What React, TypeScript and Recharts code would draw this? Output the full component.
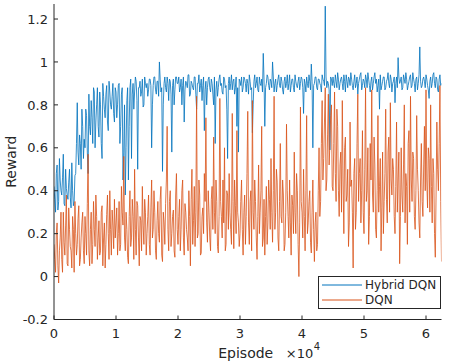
import React from "react";
import { LineChart, Line, XAxis, YAxis } from "recharts";

const EPISODE_STEP = 250;

// rewards read at episodes 0, 250, 500, ... 62500
const HYBRID_DQN = [
  0.42, 0.30, 0.52, 0.35, 0.45, 0.38, 0.57, 0.33, 0.41, 0.36, 0.50, 0.32, 0.40, 0.35, 0.48, 0.81, 0.52, 0.62, 0.78, 0.55,
  0.60, 0.75, 0.48, 0.70, 0.82, 0.62, 0.86, 0.72, 0.88, 0.65, 0.80, 0.55, 0.84, 0.74, 0.89, 0.68, 0.86, 0.78, 0.90, 0.72,
  0.86, 0.80, 0.90, 0.70, 0.88, 0.58, 0.38, 0.82, 0.45, 0.88, 0.55, 0.90, 0.86, 0.91, 0.50, 0.88, 0.84, 0.92, 0.80, 0.90,
  0.90, 0.87, 0.92, 0.60, 0.89, 0.93, 0.85, 0.91, 1.00, 0.86, 0.49, 0.90, 0.88, 0.93, 0.82, 0.91, 0.58, 0.92, 0.87, 0.93,
  0.90, 0.86, 0.92, 0.89, 0.72, 0.91, 0.88, 0.94, 0.85, 0.90, 0.87, 0.93, 0.78, 0.90, 0.86, 0.92, 0.89, 0.68, 0.91, 0.88,
  0.93, 0.86, 0.90, 0.80, 0.62, 0.91, 0.88, 0.94, 0.90, 0.85, 0.92, 0.89, 0.55, 0.93, 0.90, 0.87, 0.92, 0.88, 0.70, 0.58,
  0.91, 0.93, 0.88, 0.92, 0.86, 0.90, 0.94, 0.87, 0.67, 0.91, 0.88, 0.93, 0.86, 0.90, 0.92, 1.04, 0.70, 0.90, 0.93, 0.87,
  0.91, 1.00, 0.86, 0.92, 0.89, 0.94, 0.88, 0.91, 0.85, 0.93, 0.90, 0.87, 0.94, 0.89, 0.92, 0.86, 0.91, 0.88, 0.93, 0.90,
  0.92, 0.76, 0.90, 0.93, 0.88, 0.91, 0.99, 0.60, 0.90, 0.93, 0.87, 0.92, 0.89, 0.94, 0.91, 1.26, 0.88, 0.90, 0.59, 0.92,
  0.93, 0.88, 0.91, 0.95, 0.87, 0.92, 0.90, 0.94, 0.86, 0.91, 0.93, 0.89, 0.92, 0.87, 0.94, 0.90, 0.85, 0.92, 0.95, 0.89,
  0.91, 0.94, 0.88, 0.92, 0.86, 0.93, 0.90, 0.95, 0.92, 0.89, 0.78, 0.87, 0.91, 0.93, 0.88, 0.92, 0.90, 0.94, 0.86, 0.91,
  0.81, 0.93, 1.02, 0.90, 0.93, 0.88, 0.92, 0.95, 0.87, 0.91, 0.94, 0.89, 0.92, 0.86, 0.93, 0.90, 1.07, 0.88, 0.92, 0.91,
  0.94, 0.89, 0.83, 0.93, 0.90, 0.95, 0.88, 0.92, 0.86, 0.94, 0.90,
];

// rewards read at episodes 125, 375, 625, ... 62375
const HYBRID_DQN_MID = [
  0.36, 0.48, 0.31, 0.55, 0.40, 0.46, 0.34, 0.50, 0.38, 0.44, 0.37, 0.53, 0.33, 0.47, 0.62, 0.58, 0.66, 0.50, 0.70, 0.64,
  0.78, 0.58, 0.85, 0.66, 0.74, 0.88, 0.60, 0.80, 0.70, 0.86, 0.62, 0.90, 0.78, 0.85, 0.72, 0.91, 0.80, 0.84, 0.76, 0.88,
  0.74, 0.89, 0.62, 0.85, 0.45, 0.80, 0.60, 0.88, 0.70, 0.92, 0.85, 0.78, 0.93, 0.82, 0.88, 0.91, 0.86, 0.79, 0.93, 0.88,
  0.84, 0.92, 0.89, 0.80, 0.93, 0.87, 0.91, 0.84, 0.92, 0.88, 0.80, 0.93, 0.86, 0.90, 0.92, 0.85, 0.89, 0.80, 0.93, 0.90,
  0.93, 0.88, 0.80, 0.93, 0.87, 0.90, 0.94, 0.84, 0.91, 0.88, 0.93, 0.85, 0.90, 0.94, 0.89, 0.82, 0.93, 0.87, 0.80, 0.92,
  0.88, 0.92, 0.85, 0.93, 0.87, 0.84, 0.92, 0.89, 0.86, 0.93, 0.88, 0.78, 0.90, 0.87, 0.94, 0.91, 0.85, 0.93, 0.88, 0.92,
  0.89, 0.86, 0.93, 0.90, 0.92, 0.85, 0.91, 0.88, 0.80, 0.94, 0.90, 0.87, 0.93, 0.89, 0.86, 0.92, 0.88, 0.94, 0.89, 0.92,
  0.88, 0.93, 0.90, 0.86, 0.92, 0.89, 0.93, 0.87, 0.91, 0.88, 0.94, 0.90, 0.86, 0.92, 0.88, 0.94, 0.89, 0.91, 0.87, 0.93,
  0.88, 0.92, 0.86, 0.90, 0.94, 0.87, 0.91, 0.89, 0.93, 0.88, 0.92, 0.90, 0.86, 0.92, 0.89, 0.93, 0.91, 0.87, 0.93, 0.89,
  0.90, 0.94, 0.88, 0.92, 0.90, 0.93, 0.87, 0.91, 0.94, 0.88, 0.92, 0.95, 0.89, 0.91, 0.88, 0.93, 0.90, 0.94, 0.87, 0.92,
  0.88, 0.92, 0.95, 0.89, 0.91, 0.87, 0.93, 0.90, 0.86, 0.92, 0.94, 0.89, 0.93, 0.87, 0.91, 0.95, 0.88, 0.92, 0.90, 0.93,
  0.90, 0.88, 0.93, 0.91, 0.87, 0.94, 0.90, 0.92, 0.89, 0.93, 0.88, 0.95, 0.90, 0.92, 0.87, 0.94, 0.91, 0.89, 0.93, 0.88,
  0.92, 0.87, 0.91, 0.88, 0.94, 0.90, 0.93, 0.87, 0.92, 0.89,
];

const DQN = [
  0.15, 0.02, 0.25, -0.03, 0.18, 0.08, 0.30, 0.10, 0.38, 0.05, 0.22, 0.12, 0.28, 0.02, 0.20, 0.15, 0.33, 0.08, 0.25, 0.12,
  0.28, 0.10, 0.57, 0.05, 0.30, 0.15, 0.22, 0.38, 0.08, 0.26, 0.12, 0.33, 0.18, 0.04, 0.29, 0.20, 0.40, 0.10, 0.24, 0.36,
  0.25, 0.10, 0.35, 0.15, 0.30, 0.56, 0.12, 0.22, 0.06, 0.40, 0.18, 0.28, 0.50, 0.10, 0.33, 0.05, 0.26, 0.42, 0.15, 0.30,
  0.20, 0.38, 0.10, 0.45, 0.22, 0.30, 0.08, 0.35, 0.16, 0.42, 0.07, 0.25, 0.34, 0.70, 0.12, 0.40, 0.20, 0.31, 0.09, 0.48,
  0.15, 0.36, 0.22, 0.45, 0.10, 0.30, 0.18, 0.40, 0.05, 0.50, 0.26, 0.14, 0.84, 0.20, 0.38, 0.11, 0.32, 0.48, 0.74, 0.16,
  0.30, 0.12, 0.42, 0.65, 0.20, 0.35, 0.11, 0.83, 0.28, 0.45, 0.60, 0.15, 0.38, 0.48, 0.22, 0.76, 0.13, 0.33, 0.68, 0.25,
  0.20, 0.45, 0.10, 0.38, 0.28, 0.77, 0.15, 0.40, 0.82, 0.22, 0.35, 0.08, 0.52, 0.30, 0.70, 0.18, 0.10, 0.42, 0.25, 0.36,
  0.55, 0.16, 0.84, 0.30, 0.44, 0.12, 0.62, 0.25, 0.38, 0.15, 0.71, 0.28, 0.45, 0.10, 0.33, 0.58, 0.20, 0.40, 0.00, 0.79,
  0.30, 0.50, 0.12, 0.75, 0.25, 0.40, 0.11, 0.45, 0.07, 0.30, 0.15, 0.60, 0.35, 0.82, 0.55, 0.88, 0.45, 0.85, 0.62, 0.80,
  0.40, 0.86, 0.35, 0.70, 0.28, 0.58, 0.82, 0.20, 0.65, 0.38, 0.14, 0.72, 0.45, 0.04, 0.55, 0.30, 0.85, 0.48, 0.25, 0.68,
  0.20, 0.88, 0.40, 0.15, 0.62, 0.87, 0.30, 0.52, 0.18, 0.75, 0.42, 0.12, 0.58, 0.35, 0.78, 0.25, 0.65, 0.81, 0.38, 0.50,
  0.20, 0.72, 0.45, 0.06, 0.60, 0.30, 0.80, 0.48, 0.15, 0.68, 0.84, 0.35, 0.55, 0.22, 0.75, 0.40, 0.18, 0.62, 0.28, 0.70,
  0.87, 0.32, 0.55, 0.80, 0.25, 0.48, 0.09, 0.72, 0.40, 0.89, 0.07,
];

const DQN_MID = [
  0.08, 0.20, 0.05, 0.12, 0.30, 0.02, 0.16, 0.24, 0.06, 0.32, 0.14, 0.04, 0.22, 0.35, 0.10, 0.27, 0.05, 0.18, 0.30, 0.06,
  0.20, 0.34, 0.12, 0.22, 0.06, 0.35, 0.14, 0.28, 0.18, 0.10, 0.30, 0.05, 0.25, 0.15, 0.38, 0.08, 0.22, 0.31, 0.13, 0.18,
  0.32, 0.20, 0.12, 0.42, 0.24, 0.18, 0.30, 0.09, 0.28, 0.14, 0.36, 0.08, 0.22, 0.35, 0.18, 0.28, 0.12, 0.24, 0.36, 0.10,
  0.28, 0.15, 0.32, 0.18, 0.40, 0.12, 0.26, 0.20, 0.36, 0.10, 0.30, 0.15, 0.45, 0.22, 0.35, 0.14, 0.28, 0.12, 0.38, 0.22,
  0.28, 0.12, 0.40, 0.18, 0.34, 0.22, 0.12, 0.28, 0.36, 0.15, 0.42, 0.30, 0.18, 0.45, 0.10, 0.28, 0.20, 0.35, 0.25, 0.40,
  0.18, 0.36, 0.22, 0.30, 0.45, 0.14, 0.28, 0.35, 0.18, 0.25, 0.12, 0.40, 0.22, 0.30, 0.15, 0.35, 0.45, 0.20, 0.30, 0.14,
  0.35, 0.22, 0.30, 0.15, 0.48, 0.25, 0.35, 0.12, 0.30, 0.45, 0.18, 0.28, 0.20, 0.40, 0.14, 0.36, 0.28, 0.15, 0.45, 0.22,
  0.30, 0.40, 0.22, 0.50, 0.18, 0.35, 0.28, 0.45, 0.12, 0.30, 0.40, 0.18, 0.25, 0.38, 0.20, 0.30, 0.48, 0.15, 0.25, 0.35,
  0.18, 0.28, 0.40, 0.20, 0.35, 0.16, 0.30, 0.22, 0.25, 0.12, 0.40, 0.28, 0.62, 0.45, 0.72, 0.40, 0.66, 0.52, 0.75, 0.42,
  0.62, 0.48, 0.78, 0.40, 0.52, 0.30, 0.45, 0.60, 0.35, 0.50, 0.25, 0.42, 0.30, 0.48, 0.22, 0.62, 0.35, 0.55, 0.40, 0.30,
  0.50, 0.35, 0.60, 0.28, 0.45, 0.38, 0.65, 0.22, 0.40, 0.30, 0.55, 0.32, 0.20, 0.48, 0.36, 0.58, 0.30, 0.45, 0.55, 0.28,
  0.42, 0.30, 0.58, 0.28, 0.38, 0.52, 0.25, 0.42, 0.62, 0.30, 0.45, 0.58, 0.28, 0.40, 0.50, 0.25, 0.45, 0.35, 0.52, 0.40,
  0.45, 0.60, 0.30, 0.42, 0.55, 0.20, 0.38, 0.50, 0.62, 0.35,
];

const X_TICKS = [0, 10000, 20000, 30000, 40000, 50000, 60000];
const Y_TICKS = [-0.2, 0, 0.2, 0.4, 0.6, 0.8, 1, 1.2];
const SERIES_NAMES = ["Hybrid DQN", "DQN"];

const BLUE = "#0072BD";
const ORANGE = "#D95319";
const AXIS = "#262626";
const FONT = "DejaVu Sans, sans-serif";

const data: { episode: number; hybrid: number; dqn: number }[] = [];
HYBRID_DQN.forEach((h, i) => {
  data.push({ episode: i * EPISODE_STEP, hybrid: h, dqn: DQN[i] });
  if (i < HYBRID_DQN_MID.length) {
    data.push({
      episode: i * EPISODE_STEP + EPISODE_STEP / 2,
      hybrid: HYBRID_DQN_MID[i],
      dqn: DQN_MID[i],
    });
  }
});

const XTick = (props: any) => {
  const { x, y, payload } = props;
  return (
    <g>
      <line x1={x} y1={y} x2={x} y2={y - 4} stroke={AXIS} strokeWidth={1} />
      <text x={x} y={y + 18.5} textAnchor="middle" fontSize={13} fontFamily={FONT} fill={AXIS}>
        {String(payload.value / 10000)}
      </text>
    </g>
  );
};

const YTick = (props: any) => {
  const { x, y, payload } = props;
  const v = Math.round(payload.value * 10) / 10;
  return (
    <g>
      <line x1={x} y1={y} x2={x + 4} y2={y} stroke={AXIS} strokeWidth={1} />
      <text x={x - 6} y={y + 4.7} textAnchor="end" fontSize={13} fontFamily={FONT} fill={AXIS}>
        {String(v)}
      </text>
    </g>
  );
};

const XLabel = (props: any) => {
  const { viewBox } = props;
  const cx = viewBox.x + viewBox.width / 2;
  const by = viewBox.y;
  return (
    <g>
      <text x={cx - 2} y={by + 38} textAnchor="middle" fontSize={14} fontFamily={FONT} fill={AXIS}>
        Episode
      </text>
      <text x={cx + 38} y={by + 38} textAnchor="start" fontSize={13} fontFamily={FONT} fill={AXIS}>
        ×10
      </text>
      <text x={cx + 66} y={by + 30} textAnchor="start" fontSize={10} fontFamily={FONT} fill={AXIS}>
        4
      </text>
    </g>
  );
};

const YLabel = (props: any) => {
  const { viewBox } = props;
  const cy = viewBox.y + viewBox.height / 2;
  const x = 16;
  return (
    <text
      x={x}
      y={cy}
      transform={`rotate(-90 ${x} ${cy})`}
      textAnchor="middle"
      fontSize={14}
      fontFamily={FONT}
      fill={AXIS}
    >
      Reward
    </text>
  );
};

const LegendBox = () => (
  <svg width={124} height={34} style={{ display: "block" }}>
    <rect x={0.5} y={0.5} width={122} height={32} fill="#fff" stroke={AXIS} strokeWidth={1} />
    <line x1={4} y1={9} x2={44} y2={9} stroke={BLUE} strokeWidth={1} />
    <text x={47} y={13.3} fontSize={12} fontFamily={FONT} fill={AXIS}>
      {SERIES_NAMES[0]}
    </text>
    <line x1={4} y1={24} x2={44} y2={24} stroke={ORANGE} strokeWidth={1} />
    <text x={47} y={28.3} fontSize={12} fontFamily={FONT} fill={AXIS}>
      {SERIES_NAMES[1]}
    </text>
  </svg>
);

export default function App() {
  return (
    <div style={{ position: "absolute", left: 0, top: 0, width: 476, height: 363, background: "#fff" }}>
      <LineChart
        width={476}
        height={363}
        data={data}
        margin={{ top: 4, right: 34.5, bottom: 0, left: 0 }}
      >
        <XAxis
          dataKey="episode"
          type="number"
          domain={[0, 62500]}
          ticks={X_TICKS}
          allowDataOverflow
          height={43.5}
          tickSize={0}
          tickMargin={0}
          tickLine={false}
          tick={<XTick />}
          stroke={AXIS}
          interval={0}
          label={<XLabel />}
        />
        <YAxis
          type="number"
          domain={[-0.2, 1.27]}
          ticks={Y_TICKS}
          allowDataOverflow
          width={54}
          tickSize={0}
          tickMargin={0}
          tickLine={false}
          tick={<YTick />}
          stroke={AXIS}
          interval={0}
          label={<YLabel />}
        />
        <Line
          type="linear"
          dataKey="hybrid"
          name={SERIES_NAMES[0]}
          stroke={BLUE}
          strokeWidth={0.8}
          dot={false}
          isAnimationActive={false}
        />
        <Line
          type="linear"
          dataKey="dqn"
          name={SERIES_NAMES[1]}
          stroke={ORANGE}
          strokeWidth={0.8}
          dot={false}
          isAnimationActive={false}
        />
      </LineChart>
      <div style={{ position: "absolute", left: 318, top: 276 }}>
        <LegendBox />
      </div>
    </div>
  );
}
